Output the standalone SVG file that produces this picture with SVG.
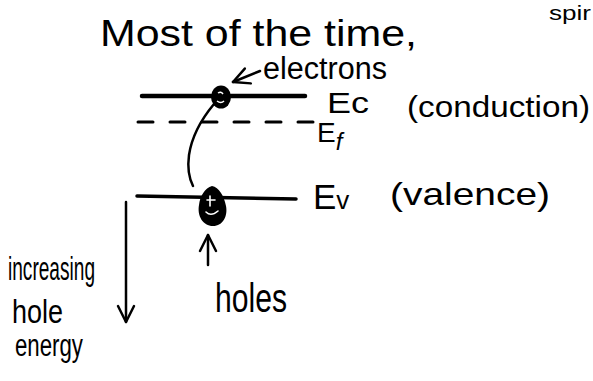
<svg xmlns="http://www.w3.org/2000/svg" width="593" height="381" viewBox="0 0 593 381">
<style>
  .t { font-family: "Liberation Sans", "DejaVu Sans", sans-serif; fill: #000; }
  .lvl { stroke: #000; fill: none; stroke-linecap: round; }
  .con { stroke: #000; fill: none; stroke-width: 2.5; stroke-linecap: round; }
</style>
<defs>
  <marker id="vhead" viewBox="0 0 20 20" refX="18" refY="10" markerWidth="20" markerHeight="20" markerUnits="userSpaceOnUse" orient="auto">
    <path d="M2,2 L18,10 L2,18" fill="none" stroke="#000" stroke-width="2.5" stroke-linecap="round" stroke-linejoin="round"/>
  </marker>
</defs>
<rect width="593" height="381" fill="#fff"/>

<g id="title">
  <text class="t" x="100" y="46" font-size="36" textLength="317" lengthAdjust="spacingAndGlyphs">Most of the time,</text>
</g>
<g id="spin-note">
  <text class="t" x="549" y="20" font-size="21" textLength="42" lengthAdjust="spacingAndGlyphs">spir</text>
</g>
<g id="electrons-label">
  <text class="t" x="263" y="79" font-size="31" textLength="124" lengthAdjust="spacingAndGlyphs">electrons</text>
</g>

<g id="conduction-level">
  <line class="lvl" x1="142" y1="96" x2="305" y2="96" stroke-width="4.5"/>
  <text class="t" x="327" y="113" font-size="30" textLength="42" lengthAdjust="spacingAndGlyphs">Ec</text>
  <text class="t" x="407" y="117" font-size="30" textLength="183" lengthAdjust="spacingAndGlyphs">(conduction)</text>
</g>
<g id="electron">
  <ellipse cx="221" cy="97" rx="10" ry="11.5" fill="#000"/>
  <path d="M218,93 q3,-2 5,1 M217,101 q4,3 7,0" stroke="#fff" stroke-width="1.5" fill="none"/>
</g>

<g id="fermi-level">
  <line class="lvl" x1="138" y1="122" x2="314" y2="122" stroke-width="3" stroke-dasharray="15 17" stroke-linecap="butt"/>
  <text class="t" x="317" y="142" font-size="28">E<tspan font-size="24" dy="8" font-style="italic">f</tspan></text>
</g>

<g id="valence-level">
  <line class="lvl" x1="137" y1="196" x2="296" y2="199" stroke-width="3.5"/>
  <text class="t" x="313" y="209" font-size="35">E<tspan font-size="26">v</tspan></text>
  <text class="t" x="390" y="205" font-size="32" textLength="160" lengthAdjust="spacingAndGlyphs">(valence)</text>
</g>
<g id="hole">
  <path d="M212,186 C205,188 200,196 199,205 C197,216 203,226 213,226 C223,226 228,216 226,206 C224,196 219,187 212,186 Z" fill="#000"/>
  <path d="M207,200 l8,0 M210,196 l0,10 M206,212 q5,5 12,-1" stroke="#fff" stroke-width="1.6" fill="none" stroke-linecap="round"/>
</g>
<g id="holes-label">
  <text class="t" x="215" y="312" font-size="40" textLength="72" lengthAdjust="spacingAndGlyphs">holes</text>
</g>

<g id="energy-label">
  <text class="t" x="8" y="280" font-size="33" textLength="87" lengthAdjust="spacingAndGlyphs">increasing</text>
  <text class="t" x="12" y="323" font-size="33" textLength="51" lengthAdjust="spacingAndGlyphs">hole</text>
  <text class="t" x="15" y="356" font-size="31" textLength="68" lengthAdjust="spacingAndGlyphs">energy</text>
</g>

<g id="connectors">
  <line class="con" x1="260" y1="71" x2="233" y2="82" marker-end="url(#vhead)"/>
  <path class="con" d="M214,104 C204,116 192,135 189,155 C187,170 190,180 193,186" stroke-width="2"/>
  <line class="con" x1="126" y1="202" x2="126" y2="322" marker-end="url(#vhead)"/>
  <line class="con" x1="208" y1="265" x2="208" y2="235" marker-end="url(#vhead)"/>
</g>
</svg>
